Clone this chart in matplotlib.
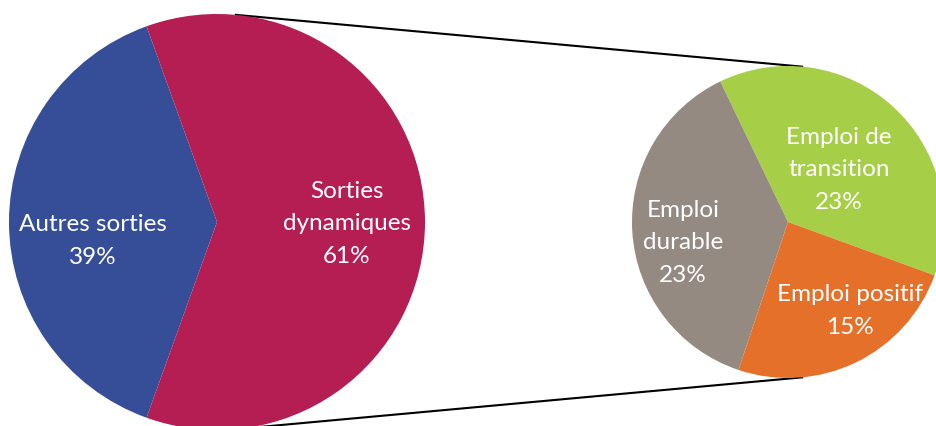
import matplotlib.pyplot as plt
import numpy as np

# -----------------------------
# Data
# -----------------------------
main_labels = ["Autres sorties\n39%", "Sorties\ndynamiques\n61%"]
main_values = [39, 61]
main_colors = ["#364E98", "#B41E52"]

detail_labels = ["Emploi de\ntransition\n23%", "Emploi\ndurable\n23%", "Emploi positif\n15%"]
detail_values = [23, 23, 15]
detail_colors = ["#A6CE46", "#958A81", "#E5702A"]

plt.rcParams["font.family"] = ["Lato", "DejaVu Sans"]

# -----------------------------
# Figure: one axes in pixel-like units
# -----------------------------
W, H = 937, 426
fig = plt.figure(figsize=(W / 100, H / 100), dpi=100)
ax = fig.add_axes([0, 0, 1, 1])

big_c, big_r = (217, 204), 208
small_c, small_r = (788, 204), 156

# main pie, blue slice centred on the left
ax.pie(main_values, colors=main_colors, center=big_c, radius=big_r,
       startangle=180 - main_values[0] / sum(main_values) * 180,
       wedgeprops=dict(linewidth=0), frame=True)

# detail pie of the dynamic exits
ax.pie(detail_values, colors=detail_colors, center=small_c, radius=small_r,
       startangle=-20, wedgeprops=dict(linewidth=0), frame=True)

ax.set_xlim(0, W)
ax.set_ylim(0, H)
ax.set_aspect("equal")
ax.axis("off")

# connector lines
a = np.deg2rad(84.8)
for s in (1, -1):
    x0 = big_c[0] + big_r * np.cos(a)
    y0 = big_c[1] + s * big_r * np.sin(a)
    x1 = small_c[0] + small_r * np.cos(a)
    y1 = small_c[1] + s * small_r * np.sin(a)
    ax.plot([x0, x1], [y0, y1], color="black", lw=1.5, zorder=0)

# -----------------------------
# Labels
# -----------------------------
kw = dict(color="white", fontsize=17.5, ha="center", va="center", linespacing=1.68)
ax.text(93, H - 241, main_labels[0], **kw)
ax.text(347, H - 224, main_labels[1], **kw)
ax.text(839, H - 170, detail_labels[0], **kw)
ax.text(683, H - 243, detail_labels[1], **kw)
ax.text(850, H - 311, detail_labels[2], **kw)

plt.savefig("out.png", dpi=100)
